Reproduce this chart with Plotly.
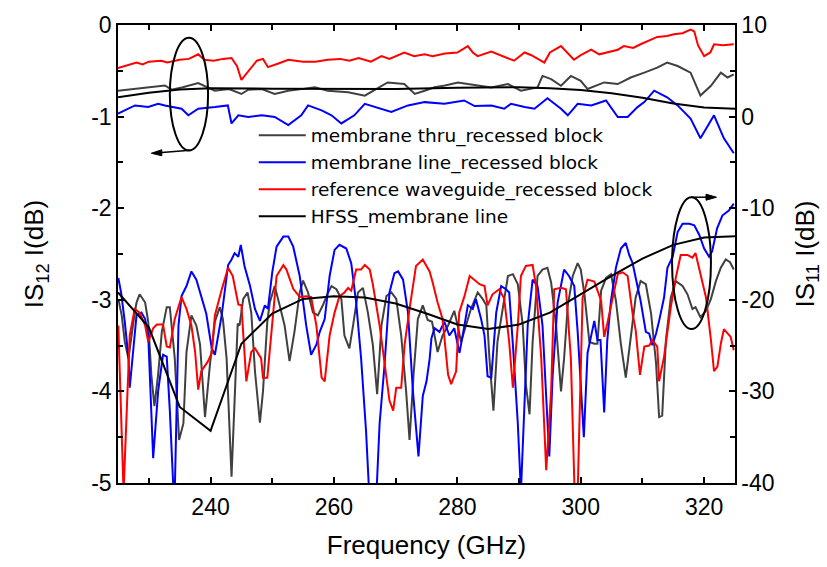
import plotly.graph_objects as go

# ---------------- data ----------------
# |S12| (left axis, dB): [frequency GHz, value]
s12_thru = [(225, -0.717), (227.2, -0.70), (229.9, -0.68), (232.6, -0.66), (233.7, -0.706), (235.5, -0.68),
            (238, -0.634), (240.7, -0.717), (243, -0.70), (245, -0.753), (246.1, -0.706), (248.3, -0.70),
            (250.4, -0.753), (252.6, -0.717), (254.7, -0.70), (256.9, -0.68), (259, -0.717), (262.3, -0.735),
            (265, -0.771), (267.7, -0.663), (268.7, -0.627), (271.4, -0.645), (273.1, -0.753), (274.7, -0.717),
            (276.3, -0.68), (278, -0.66), (280.1, -0.627), (281.7, -0.645), (283.5, -0.66), (285.5, -0.681),
            (288.2, -0.645), (290.3, -0.717), (293.0, -0.681), (293.8, -0.556), (295.2, -0.591), (296.8, -0.663),
            (298.4, -0.556), (300.0, -0.609), (301.1, -0.699), (303.8, -0.627), (306.0, -0.645), (308.1, -0.573),
            (310.3, -0.52), (312.4, -0.466), (314.0, -0.41), (315.7, -0.448), (317.8, -0.52), (319.4, -0.77),
            (321.1, -0.663), (322.7, -0.52), (323.8, -0.573), (324.8, -0.538)]
s12_line = [(225, -0.968), (226.7, -0.914), (227.75, -0.878), (229.9, -0.896), (231.5, -0.86), (232.6, -0.878),
            (235.3, -0.914), (236.4, -0.986), (238, -0.914), (240.7, -0.896), (242.8, -0.878), (243.4, -1.075),
            (244.5, -0.986), (246.1, -1.004), (248.3, -0.986), (250.4, -1.004), (252.6, -1.093), (254.7, -0.986),
            (255.8, -0.878), (258, -0.932), (259.6, -0.986), (261.2, -1.075), (263.3, -0.986), (265, -0.86),
            (267.7, -0.914), (269.3, -0.95), (272, -0.878), (274.7, -0.842), (277.9, -0.86), (281.1, -0.824),
            (282.8, -0.885), (285.5, -0.878), (287.6, -0.914), (288.7, -0.86), (290.9, -0.896), (292.5, -0.914),
            (294.6, -0.80), (296.8, -0.914), (297.9, -0.986), (299.5, -0.86), (301.7, -0.878), (304.1, -0.824),
            (306.0, -1.004), (307.6, -1.004), (309.2, -0.896), (310.3, -0.842), (311.9, -0.717), (313, -0.753),
            (314.0, -0.789), (315.7, -0.878), (317.8, -1.022), (319.4, -1.237), (321.6, -0.986), (323.2, -1.237),
            (324.8, -1.40)]
s12_ref = [(225, -0.47), (226.5, -0.44), (228, -0.41), (229, -0.43), (230, -0.40), (232, -0.39), (233, -0.41),
           (235, -0.38), (236.5, -0.37), (238, -0.32), (239, -0.38), (240.5, -0.39), (242, -0.37), (243.4, -0.36),
           (244.3, -0.45), (245, -0.60), (246, -0.52), (247.5, -0.39), (248.5, -0.37), (249.3, -0.46), (251, -0.42),
           (252.6, -0.38), (255, -0.40), (257, -0.40), (259, -0.38), (261, -0.37), (262.5, -0.39), (264, -0.36),
           (266, -0.40), (267.7, -0.34), (269, -0.37), (271.4, -0.30), (273, -0.34), (274.7, -0.32), (276, -0.34),
           (278, -0.31), (280, -0.30), (281, -0.26), (281.7, -0.23), (282.5, -0.30), (283.3, -0.34), (285.5, -0.29),
           (287, -0.33), (289.2, -0.39), (290.9, -0.30), (292, -0.33), (294.1, -0.41), (295, -0.30), (296.8, -0.23),
           (298, -0.32), (298.9, -0.38), (300, -0.33), (301.7, -0.27), (303, -0.32), (304.3, -0.30), (306, -0.27),
           (307, -0.23), (308.5, -0.25), (309.7, -0.21), (311, -0.17), (312.4, -0.13), (314, -0.12), (315.1, -0.10),
           (316.5, -0.09), (317.8, -0.05), (318.4, -0.07), (319, -0.22), (320, -0.34), (321, -0.30), (321.6, -0.21),
           (323, -0.22), (324.8, -0.21)]
s12_hfss = [(225, -0.79), (230, -0.74), (235, -0.705), (240, -0.69), (250, -0.695), (260, -0.70), (270, -0.70),
            (280, -0.685), (290, -0.68), (295, -0.69), (300, -0.71), (305, -0.745), (310, -0.795), (315, -0.857),
            (320, -0.90), (325, -0.915)]

# |S11| (right axis, dB)
s11_thru = [(225.05, -19.9), (225.6, -21.7), (226.1, -24.6), (226.7, -26.4), (227.5, -22.4), (228, -20.3),
            (228.5, -19.4), (229.4, -20.3), (229.9, -22.4), (230.4, -28.2), (230.9, -31.6), (231.5, -28.2),
            (232.1, -23.5), (232.9, -20.8), (233.4, -20.8), (234.2, -26.4), (234.9, -35.3), (235.6, -33.5),
            (236.1, -25.7), (236.9, -21.7), (237.7, -22.8), (238.3, -24.9), (239.1, -32.8), (239.9, -27.1),
            (240.7, -22.4), (241.5, -20.8), (242, -22.1), (242.6, -26.4), (243.4, -39.3), (243.9, -30),
            (244.4, -22.6), (244.7, -22.8), (245.3, -19.9), (246, -19.2), (246.6, -21.4), (247.2, -27.8),
            (248, -33.4), (248.5, -30), (249.2, -22.4), (249.6, -20.3), (250.4, -18.5), (251.2, -20.6),
            (252, -22.8), (252.8, -26.7), (253.6, -23.5), (254.45, -19.2), (255, -17.9), (255.8, -19.2),
            (256.6, -21.4), (257.4, -21.7), (258.2, -20.6), (259.05, -19.2), (259.6, -18.5), (260.4, -18.85),
            (261.2, -19.9), (261.7, -23.9), (262.5, -25.3), (263.1, -22.8), (263.9, -19.2), (264.7, -18.7),
            (265.5, -21.4), (266.3, -24.9), (267, -30.3), (267.7, -22.8), (268.5, -19.6), (269.3, -19.2),
            (270.1, -19.9), (270.9, -23.9), (271.7, -30), (272.25, -35.3), (272.9, -28.2), (273.6, -22.1),
            (274.4, -20.6), (275.2, -22.2), (275.9, -22.4), (276.8, -25.7), (277.6, -23.9), (278.5, -22.8),
            (279.5, -21.2), (280.05, -22.8), (280.6, -24.6), (281.4, -22.8), (282.2, -21), (283.3, -19.2),
            (284.1, -19.9), (284.7, -20.6), (285.2, -26.4), (285.85, -32.1), (286.5, -24.6), (287.35, -21),
            (288.2, -17.4), (289, -17.2), (289.8, -18.3), (290.6, -22.8), (291.1, -29.2), (291.7, -32.5),
            (292.2, -24.6), (293, -17.4), (293.8, -16.7), (294.6, -16.5), (295.2, -18.1), (296, -22.8),
            (296.8, -30), (297.3, -26.4), (297.9, -20.6), (298.7, -17.4), (299.5, -16), (300, -16.7),
            (300.6, -19.4), (301.4, -24.6), (302.2, -24.8), (302.7, -24.8), (303.3, -19.0), (304.1, -17.6),
            (304.9, -17.2), (305.7, -20.1), (306.5, -24.8), (307.3, -28.5), (308.1, -24.4), (308.9, -19.75),
            (309.7, -17.96), (310.55, -18.3), (311.4, -21.5), (312.2, -26.9), (312.7, -32.8), (313.2, -32.65),
            (313.8, -24.4), (314.6, -19.75), (315.4, -17.96), (316.5, -18.5), (317.3, -19.4), (318.1, -21),
            (318.6, -20.8), (319.4, -21.9), (320.3, -21.2), (321.1, -19.9), (321.9, -17.96), (322.7, -16.5),
            (323.5, -15.6), (324.2, -15.9), (324.8, -16.7)]
s11_line = [(225.05, -17.6), (225.5, -19.2), (226.1, -22.4), (226.7, -26.4), (226.9, -29.6), (227.5, -25.7),
            (228, -21.7), (228.8, -21.4), (229.4, -22.1), (229.9, -23.9), (230.7, -37.3), (231.5, -30),
            (232.3, -26), (232.9, -26.2), (233.4, -32.1), (234, -41), (234.2, -41), (234.8, -22.8),
            (235.3, -19.6), (236.1, -18.5), (236.9, -16.9), (237.7, -17.8), (238.5, -19.7), (239.3, -21.5),
            (240.2, -25.3), (240.7, -26), (241.8, -21.7), (242.85, -16.2), (243.4, -15.6), (243.9, -14.9),
            (244.5, -15.3), (244.9, -14.0), (245.5, -16.3), (246.4, -18.5), (247.2, -21), (248, -22.3),
            (248.8, -20.6), (249.3, -21.0), (250.0, -17.0), (250.7, -14.2), (251.8, -13.1), (252.6, -13.1),
            (253.4, -14.2), (254.45, -17.4), (255.5, -22.8), (256.3, -26), (257.15, -24.9), (257.7, -23.5),
            (258.5, -22.1), (259.3, -17.4), (260.1, -14.55), (260.9, -14), (262, -14.4), (262.8, -16),
            (263.6, -20.3), (264.4, -26.4), (265.2, -34.3), (265.7, -41), (266.9, -41), (267.4, -33.5),
            (268.2, -27.1), (269, -19.2), (269.8, -17.1), (270.4, -16.9), (271.2, -17.8), (272, -21.4),
            (272.8, -30), (273.7, -37.1), (274.4, -30.5), (275.0, -28.9), (275.5, -26.5), (275.8, -24.2),
            (276.3, -23.1), (277.1, -23.5), (277.9, -22.4), (278.7, -23.9), (279.5, -23.1), (280.35, -25.8),
            (281.15, -22.8), (281.7, -20.6), (282.5, -21), (283, -19.9), (283.85, -22.1), (284.4, -23.9),
            (284.9, -28.35), (285.5, -28.5), (286.3, -21.4), (287.1, -18.5), (287.9, -18.85), (288.4, -19.2),
            (289, -24.9), (289.8, -33.5), (290.3, -41), (290.9, -30), (291.4, -22.8), (292.2, -17.8),
            (293, -18.5), (293.8, -22.8), (294.9, -37.1), (295.45, -28.2), (296.25, -20.3), (297.3, -16.7),
            (298.1, -17.4), (298.95, -18.5), (299.5, -23.5), (300.5, -35), (301.1, -25.8), (301.65, -24.05),
            (302.2, -22.3), (302.7, -24.4), (303.2, -24.4), (303.8, -32.3), (304.3, -24.4), (304.9, -20.1),
            (305.7, -16.5), (306.5, -14.4), (307.3, -13.8), (307.85, -15.1), (308.4, -16), (308.9, -17.6),
            (309.7, -20.1), (310.55, -23.5), (311.1, -23.7), (311.6, -24.95), (312.2, -23.7), (312.7, -22.3),
            (313.5, -19.75), (314.05, -16.5), (314.9, -15.3), (315.7, -12.6), (316.5, -11.7), (317.6, -11.7),
            (318.4, -11.86), (319.2, -12.9), (320, -14.4), (320.8, -15.3), (321.3, -14.7), (322.1, -12.2),
            (322.95, -10.8), (324, -10.25), (324.8, -9.5)]
s11_ref = [(225.05, -22.8), (225.9, -41), (226.9, -23.9), (227.7, -21), (228.5, -21.4), (229.4, -22.8),
           (229.9, -24.6), (230.7, -23.1), (231.3, -22.7), (232.3, -22.7), (232.9, -25.1), (233.4, -25.2),
           (234.2, -22.1), (235.3, -19.7), (236.1, -21.0), (236.9, -22.8), (237.5, -25.7), (238.0, -29.8),
           (238.5, -27.8), (239.6, -26.7), (240.2, -25.8), (240.7, -21.7), (241.8, -18.9), (242.85, -16.5),
           (243.6, -17.4), (244.5, -20.5), (245.0, -20.6), (245.8, -28.9), (246.6, -25.7), (247.2, -25.3),
           (248.2, -26.4), (248.5, -28.5), (249.2, -28.5), (249.6, -25.7), (250.7, -17.4), (251.8, -16.2),
           (252.3, -16.7), (253.4, -18.8), (254.45, -19.7), (255.5, -19.6), (256.3, -19.7), (257.15, -22.8),
           (258, -28.5), (258.5, -28.9), (259.3, -23.9), (260.1, -21.4), (260.9, -19.6), (261.7, -19.2),
           (262.3, -18.7), (262.8, -19.0), (263.6, -16.7), (264.4, -16.7), (265, -16.2), (265.8, -16.7),
           (266.3, -18.3), (267.4, -22.8), (268.2, -26.7), (269, -31.0), (269.6, -32.1), (270.1, -29.6),
           (270.9, -29.6), (271.45, -24.9), (272.25, -21.0), (273.3, -16.3), (274.4, -15.6), (275.5, -16.9),
           (276.0, -18.1), (276.8, -20.3), (277.6, -22.1), (278.5, -28.2), (279, -29.2), (279.8, -27.8),
           (280.3, -21.4), (281.15, -19.6), (282, -17.4), (282.8, -17.8), (283.6, -18.3), (284.4, -18.5),
           (284.9, -20.6), (285.7, -19.4), (286.8, -18.85), (287.6, -19.9), (288.4, -24.6), (289, -29.6),
           (289.8, -22.8), (290.3, -17.4), (291.1, -16.3), (292.2, -16.2), (292.75, -18.5), (293.6, -26.4),
           (294.4, -38.6), (295.2, -30), (295.7, -18.85), (296.8, -18.7), (297.6, -18.85), (298.4, -26.4),
           (299, -41), (299.5, -41), (300.3, -19.8), (301.1, -17.8), (302.2, -18.0), (303.3, -20.1),
           (303.8, -24.05), (304.3, -22.6), (305.2, -19.75), (306, -17.2), (306.8, -17.0), (307.6, -17.4),
           (308.4, -21.5), (308.9, -23.3), (309.6, -28.2), (310.3, -25.1), (311.1, -25.0), (311.6, -24.4),
           (312.4, -25.1), (312.7, -28.9), (313.5, -26.2), (314.6, -20.8), (315.4, -17.6), (316.2, -15.1),
           (317.3, -15.1), (318.1, -15.4), (318.6, -14.9), (319.4, -17.2), (320.3, -19.75), (321.1, -24.4),
           (321.6, -27.8), (322.15, -27.3), (322.7, -24.8), (323.2, -23.2), (324.3, -24.05), (324.8, -25.5)]
s11_hfss = [(225, -19.2), (230, -23.0), (235, -31.7), (240, -34.3), (245, -24.8), (250, -21.5), (255, -19.9),
            (260, -19.6), (265, -19.75), (270, -20.4), (275, -21.5), (280, -22.7), (285, -23.2), (290, -22.7),
            (295, -21.4), (300, -19.4), (305, -17.4), (310, -15.5), (315, -14.0), (320, -13.2), (325, -13.05)]

legend_names = ["membrane thru_recessed block", "membrane line_recessed block",
                "reference waveguide_recessed block", "HFSS_membrane line"]
colors = ["#404040", "#0000ff", "#ff0000", "#000000"]

x_tickvals = [240, 260, 280, 300, 320]
x_ticktext = ["240", "260", "280", "300", "320"]
y1_tickvals = [0, -1, -2, -3, -4, -5]
y1_ticktext = ["0", "-1", "-2", "-3", "-4", "-5"]
y2_tickvals = [10, 0, -10, -20, -30, -40]
y2_ticktext = ["10", "0", "-10", "-20", "-30", "-40"]

FONT = "Liberation Sans, Arial, sans-serif"
LEGEND_FONT = "DejaVu Sans, Liberation Sans, sans-serif"

fig = go.Figure()

s12_sets = [s12_thru, s12_line, s12_ref, s12_hfss]
s11_sets = [s11_thru, s11_line, s11_ref, s11_hfss]

for name, col, d in zip(legend_names, colors, s12_sets):
    fig.add_trace(go.Scatter(x=[p[0] for p in d], y=[p[1] for p in d], mode="lines",
                             line=dict(color=col, width=2), name=name, yaxis="y"))
for name, col, d in zip(legend_names, colors, s11_sets):
    fig.add_trace(go.Scatter(x=[p[0] for p in d], y=[p[1] for p in d], mode="lines",
                             line=dict(color=col, width=2), name=name, showlegend=False, yaxis="y2"))

axis_common = dict(showline=True, linecolor="black", linewidth=1.5, ticks="inside", ticklen=6,
                   tickwidth=1.5, tickcolor="black", showgrid=False, zeroline=False,
                   tickfont=dict(family=FONT, size=23, color="black"))

fig.update_layout(
    width=827, height=567,
    margin=dict(l=118, r=91, t=20, b=82),
    paper_bgcolor="white", plot_bgcolor="white",
    font=dict(family=FONT, color="black"),
    showlegend=True,
    legend=dict(x=0.22, y=0.80, xanchor="left", yanchor="top", bgcolor="rgba(0,0,0,0)",
                font=dict(family=LEGEND_FONT, size=18.5, color="black"), tracegroupgap=0, itemwidth=47),
    xaxis=dict(range=[225, 325], tickvals=x_tickvals, ticktext=x_ticktext, mirror="ticks",
               ticklabelstandoff=3,
               minor=dict(dtick=10, tick0=0, ticks="inside", ticklen=5, tickwidth=1.5, tickcolor="black"),
               title=dict(text="Frequency (GHz)", font=dict(family=FONT, size=26), standoff=16),
               **axis_common),
    yaxis=dict(range=[-5, 0], tickvals=y1_tickvals, ticktext=y1_ticktext,
               minor=dict(dtick=0.5, tick0=0, ticks="inside", ticklen=5, tickwidth=1.5, tickcolor="black"),
               title=dict(text="IS<sub>12</sub> I(dB)", font=dict(family=FONT, size=26), standoff=40),
               **axis_common),
    yaxis2=dict(range=[-40, 10], tickvals=y2_tickvals, ticktext=y2_ticktext, overlaying="y", side="right",
                minor=dict(dtick=5, tick0=0, ticks="inside", ticklen=5, tickwidth=1.5, tickcolor="black"),
                title=dict(text="IS<sub>11</sub> I(dB)", font=dict(family=FONT, size=26), standoff=22),
                **axis_common),
)

# ellipses marking curve groups
fig.add_shape(type="circle", xref="x", yref="y", x0=233.4, x1=239.6, y0=-1.37, y1=-0.14,
              line=dict(color="black", width=2))
fig.add_shape(type="circle", xref="x", yref="y2", x0=314.8, x1=321.1, y0=-23.2, y1=-8.8,
              line=dict(color="black", width=2))
# arrows pointing to the relevant axis (line + filled head)
fig.add_shape(type="line", xref="x", yref="y", x0=236.7, y0=-1.366, x1=231.6, y1=-1.394,
              line=dict(color="black", width=1.5))
fig.add_shape(type="path", xref="x", yref="y", path="M 230.4 -1.400 L 232.1 -1.362 L 232.1 -1.428 Z",
              fillcolor="black", line=dict(color="black", width=1))
fig.add_shape(type="line", xref="x", yref="y2", x0=317.9, y0=-8.8, x1=320.6, y1=-8.8,
              line=dict(color="black", width=1.5))
fig.add_shape(type="path", xref="x", yref="y2", path="M 322.0 -8.8 L 320.3 -8.47 L 320.3 -9.13 Z",
              fillcolor="black", line=dict(color="black", width=1))

fig.write_html("out.html")
